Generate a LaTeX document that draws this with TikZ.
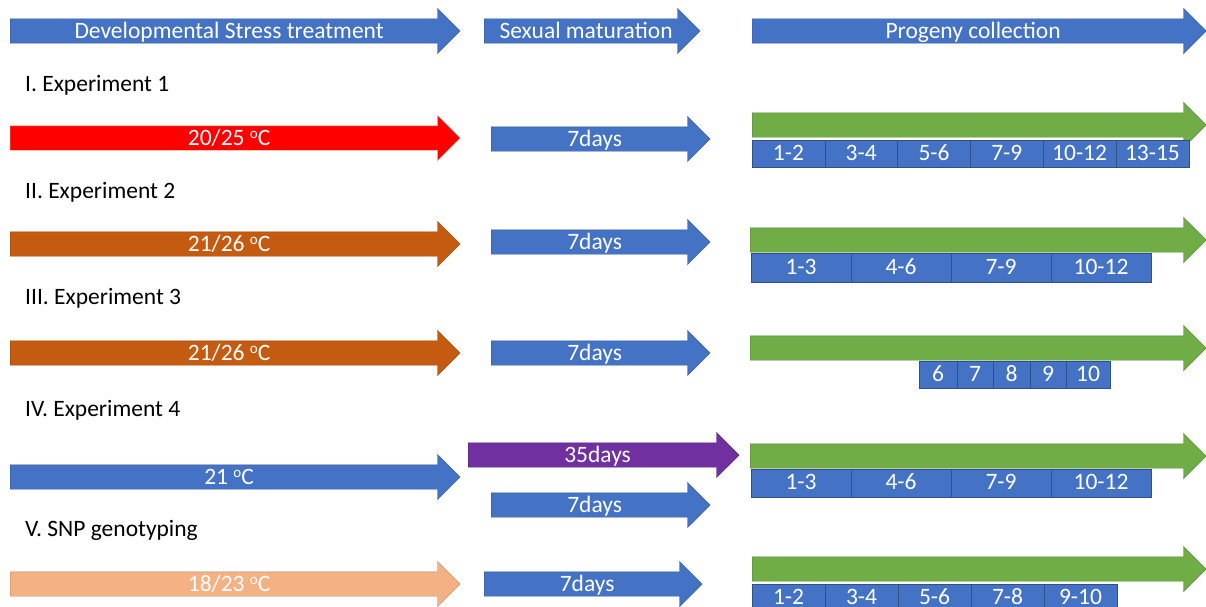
\documentclass[tikz,border=0pt]{standalone}
\usepackage{fontspec}
\setmainfont{Carlito}
\usetikzlibrary{shapes.arrows}
\definecolor{pblue}{HTML}{4472C4}
\definecolor{pred}{HTML}{FF0000}
\definecolor{pbrown}{HTML}{C55A11}
\definecolor{pgreen}{HTML}{70AD47}
\definecolor{ppurple}{HTML}{7030A0}
\definecolor{ppeach}{HTML}{F4B183}
\newcommand{\degc}{\raisebox{7.5pt}{\fontsize{15}{15}\selectfont o}C}

\begin{document}
\begin{tikzpicture}[
  x=1pt, y=-1pt,
  every node/.style={font=\fontsize{23.5}{27}\selectfont},
  stage/.style={single arrow, single arrow head extend=10.5pt, anchor=tail,
    inner ysep=2.5pt, inner xsep=0pt, text height=17pt, text depth=2pt,
    text=white, fill=#1, draw=#1!75!black, line width=0.4pt},
  period/.style={draw=pblue!70!black, fill=pblue, text=white, inner sep=0pt,
    minimum height=27pt, text height=16pt, text depth=3pt},
  rowtitle/.style={anchor=west, text=black, inner xsep=0pt}
]
  \useasboundingbox (0,0) rectangle (1206,607);

  % header
  \node[stage=pblue, minimum height=450pt] (dev) at (10,31) {Developmental Stress treatment};
  \node[stage=pblue, minimum height=216pt] (mat) at (484,31) {Sexual maturation};
  \node[stage=pblue, minimum height=454pt] (prog) at (752,31) {Progeny collection};

  % experiment 1
  \node[rowtitle] (t1) at (25,85) {I. Experiment 1};
  \node[stage=pred, draw=pbrown!60, minimum height=450pt] (dev1) at (10,138) {20/25 \degc};
  \node[stage=pblue, minimum height=219pt] (mat1) at (491,139) {7days};
  \node[stage=pgreen, minimum height=454pt] (prog1) at (752,125) {};
  \foreach \t [count=\i] in {1-2,3-4,5-6,7-9,10-12,13-15}
    \node[period, minimum width=72.8pt] (p1\i) at (752+72.8*\i-36.4,154) {\t};

  % experiment 2
  \node[rowtitle] (t2) at (25,192) {II. Experiment 2};
  \node[stage=pbrown, minimum height=450pt] (dev2) at (10,244) {21/26 \degc};
  \node[stage=pblue, minimum height=219pt] (mat2) at (491,242) {7days};
  \node[stage=pgreen, minimum height=456pt] (prog2) at (750,240) {};
  \foreach \t [count=\i] in {1-3,4-6,7-9,10-12}
    \node[period, minimum width=100pt, minimum height=29pt] (p2\i) at (751+100*\i-50,268) {\t};

  % experiment 3
  \node[rowtitle] (t3) at (25,298) {III. Experiment 3};
  \node[stage=pbrown, minimum height=450pt] (dev3) at (10,353) {21/26 \degc};
  \node[stage=pblue, minimum height=219pt] (mat3) at (491,353) {7days};
  \node[stage=pgreen, minimum height=456pt] (prog3) at (750,348) {};
  \node[period, minimum width=38pt] (p31) at (938,375) {6};
  \node[period, minimum width=36pt] (p32) at (975,375) {7};
  \node[period, minimum width=37pt] (p33) at (1011.5,375) {8};
  \node[period, minimum width=36pt] (p34) at (1048,375) {9};
  \node[period, minimum width=44pt] (p35) at (1088,375) {10};

  % experiment 4
  \node[rowtitle] (t4) at (25,410) {IV. Experiment 4};
  \node[stage=pblue, minimum height=450pt] (dev4) at (10,477) {21 \degc};
  \node[stage=ppurple, minimum height=271pt] (mat4a) at (468,455) {35days};
  \node[stage=pblue, minimum height=219pt] (mat4b) at (491,505) {7days};
  \node[stage=pgreen, minimum height=456pt] (prog4) at (750,456) {};
  \foreach \t [count=\i] in {1-3,4-6,7-9,10-12}
    \node[period, minimum width=100pt, minimum height=28pt] (p4\i) at (751+100*\i-50,483) {\t};

  % SNP genotyping
  \node[rowtitle] (t5) at (25,530) {V. SNP genotyping};
  \node[stage=ppeach, minimum height=450pt] (dev5) at (10,584) {18/23 \degc};
  \node[stage=pblue, minimum height=218pt] (mat5) at (484,584) {7days};
  \node[stage=pgreen, minimum height=454pt] (prog5) at (752,569) {};
  \foreach \t [count=\i] in {1-2,3-4,5-6,7-8,9-10}
    \node[period, minimum width=73pt] (p5\i) at (752+73*\i-36.5,598) {\t};
\end{tikzpicture}
\end{document}
